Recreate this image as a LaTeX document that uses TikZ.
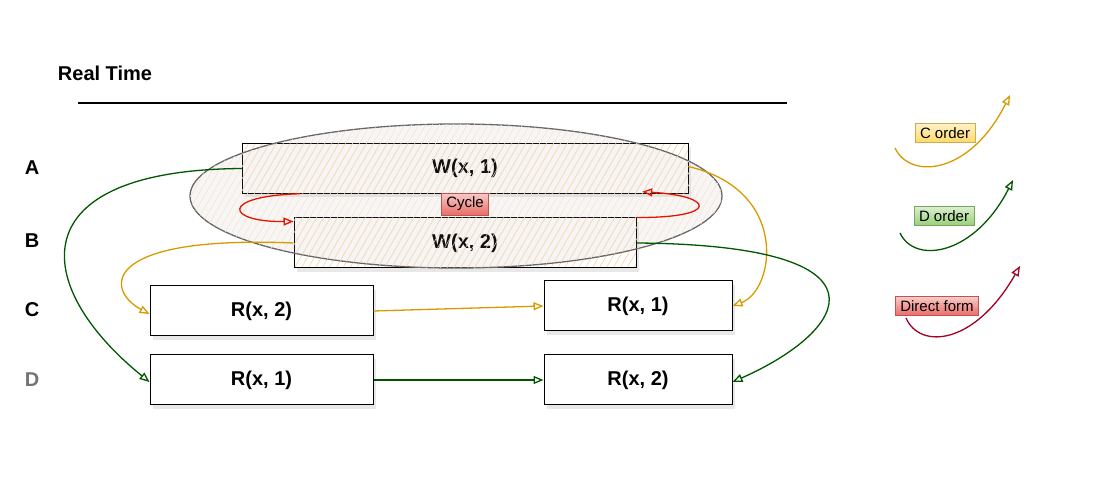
\documentclass[tikz,border=0pt]{standalone}
\usepackage{fontspec}
\setmainfont{Liberation Sans}
\usetikzlibrary{arrows.meta,patterns.meta,shadows}

\definecolor{corder}{HTML}{D79B00}
\definecolor{dorder}{HTML}{005700}
\definecolor{cyclered}{HTML}{E51400}
\definecolor{direct}{HTML}{A20025}
\definecolor{hatch}{HTML}{FFC690}
\definecolor{tagred}{HTML}{EA6B66}
\definecolor{tagyellow}{HTML}{FFD966}
\definecolor{taggreen}{HTML}{97D077}

\tikzset{
  opbox/.style={draw, line width=1pt, fill=white, minimum width=#1,
    minimum height=50, inner sep=0pt, font=\fontsize{20}{23}\selectfont\bfseries,
    drop shadow={opacity=0.18, shadow xshift=3pt, shadow yshift=-4pt}},
  wbox/.style={draw, line width=1pt, minimum width=#1, minimum height=50, inner sep=0pt,
    font=\fontsize{20}{23}\selectfont\bfseries,
    drop shadow={opacity=0.18, shadow xshift=3pt, shadow yshift=-4pt},
    preaction={fill=white},
    pattern={Lines[angle=60,distance=6pt,line width=0.5pt]}, pattern color=hatch},
  lane/.style={font=\fontsize{20}{23}\selectfont\bfseries},
  tag/.style={draw=#1!80!black, line width=0.8pt, inner xsep=5pt, inner ysep=4pt,
    font=\fontsize{15}{17}\selectfont, top color=#1!35, bottom color=#1},
  ord/.style={-{Triangle[open,length=10pt,width=8pt]}, line width=1.3pt},
}

\begin{document}
\begin{tikzpicture}[x=1pt,y=-1pt]
  \useasboundingbox (0,0) rectangle (1093,478);

  \node[lane] (rt) at (105,73) {Real Time};
  \coordinate (t0) at (78,103);
  \coordinate (t1) at (787,103);
  \draw[line width=1.2pt] (t0) -- (t1);

  \node[lane] (a) at (32,168) {A};
  \node[lane] (b) at (32,241) {B};
  \node[lane] (c) at (32,310) {C};
  \node[lane, black!55] (d) at (32,380) {D};

  \node[wbox=446] (w1) at (465,168.5) {W(x, 1)};
  \node[wbox=342] (w2) at (465,243) {W(x, 2)};
  \node[opbox=223] (rc2) at (261.5,311) {R(x, 2)};
  \node[opbox=188] (rc1) at (638,306) {R(x, 1)};
  \node[opbox=223] (rd1) at (261.5,380) {R(x, 1)};
  \node[opbox=188] (rd2) at (638,380) {R(x, 2)};

  \draw[black!60, line width=1.3pt, fill=black!35, fill opacity=0.1,
    postaction={fill opacity=1, pattern={Lines[angle=60,distance=6pt,line width=0.5pt]},
    pattern color=hatch!55}]
    (456,196) ellipse [x radius=266, y radius=72];

  \begin{scope}[ord]
    \draw[dorder] (w1.west) .. controls (20,170) and (30,285) .. ([yshift=-2pt]rd1.west);
    \draw[corder] (w2.west) .. controls (100,235) and (105,290) .. ([yshift=-3pt]rc2.west);
    \draw[corder] ([yshift=2pt]w1.east) .. controls (790,190) and (775,290) .. (rc1.east);
    \draw[dorder] (w2.east) .. controls (900,245) and (850,330) .. ([yshift=-2pt]rd2.east);
    \draw[corder] (rc2.east) -- (rc1.west);
    \draw[dorder] (rd1.east) -- (rd2.west);
    \draw[cyclered] ([xshift=58pt]w1.south west) .. controls (220,196) and (225,222) .. ([yshift=-4pt]w2.north west);
    \draw[cyclered] (w2.north east) .. controls (720,218) and (715,196) .. ([xshift=-46pt,yshift=2pt]w1.south east);
  \end{scope}
  \node[tag=tagred] (cyc) at (465,204) {Cycle};

  \node[tag=tagyellow] (lc) at (945,133) {C order};
  \coordinate (lc0) at (895,148);
  \coordinate (lc1) at (1010,95);
  \draw[ord, corder] (lc0) .. controls (910,180) and (970,175) .. (lc1);

  \node[tag=taggreen] (ld) at (944,216) {D order};
  \coordinate (ld0) at (900,233);
  \coordinate (ld1) at (1013,180);
  \draw[ord, dorder] (ld0) .. controls (915,265) and (975,255) .. (ld1);

  \node[tag=tagred] (lf) at (937,306) {Direct form};
  \coordinate (lf0) at (906,318);
  \coordinate (lf1) at (1020,266);
  \draw[ord, direct] (lf0) .. controls (920,350) and (975,345) .. (lf1);
\end{tikzpicture}
\end{document}
